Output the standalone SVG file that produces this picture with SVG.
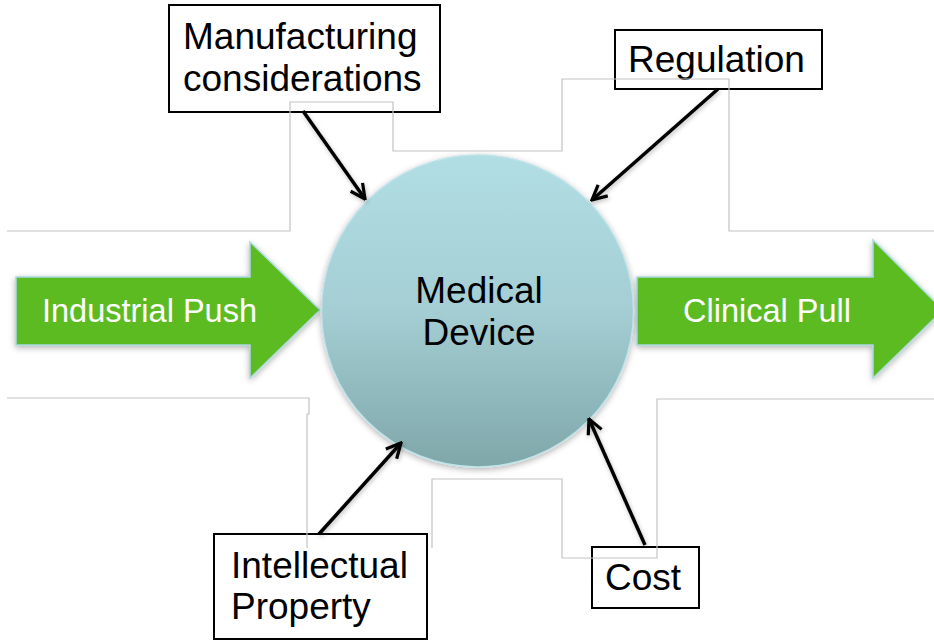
<svg xmlns="http://www.w3.org/2000/svg" width="934" height="641" viewBox="0 0 934 641">
<defs>
<style>
.lbl{font-family:"Liberation Sans",Arial,sans-serif;font-size:37px;fill:#000}
.wlbl{font-family:"Liberation Sans",Arial,sans-serif;font-size:32.5px;fill:#fff}
.box{fill:#fff;stroke:#000;stroke-width:2}
.grey{fill:none;stroke:#c4c4c4;stroke-width:1.2}
.conn{fill:none;stroke:#000;stroke-width:3.5;marker-end:url(#ah)}
.garrow{fill:#5dbb22;stroke:#a9d9de;stroke-width:1.5}
</style>
<linearGradient id="cg" x1="0" y1="0" x2="0" y2="1">
<stop offset="0" stop-color="#b1dee4"/>
<stop offset="0.5" stop-color="#a4ced3"/>
<stop offset="1" stop-color="#7fa7aa"/>
</linearGradient>
<filter id="sh" x="-20%" y="-20%" width="140%" height="140%">
<feDropShadow dx="0" dy="2" stdDeviation="3" flood-color="#000" flood-opacity="0.3"/>
</filter>
<filter id="lsh" x="-20%" y="-20%" width="140%" height="140%">
<feDropShadow dx="1" dy="2" stdDeviation="2" flood-color="#000" flood-opacity="0.25"/>
</filter>
<marker id="ah" viewBox="0 0 12 12" refX="11" refY="6" markerWidth="5" markerHeight="5" orient="auto" markerUnits="strokeWidth">
<path d="M1,1 L11,6 L1,11" fill="none" stroke="#000" stroke-width="2.2" stroke-linejoin="miter"/>
</marker>
</defs>
<rect width="934" height="641" fill="#fff"/>

<g id="industrial-push">
<path class="garrow" filter="url(#sh)" d="M16,277 L250,277 L250,242 L320,310 L250,378 L250,345 L16,345 Z"/>
<text class="wlbl" x="42" y="322">Industrial Push</text>
</g>
<g id="clinical-pull">
<path class="garrow" filter="url(#sh)" d="M637,277 L873,277 L873,240 L943,310 L873,378 L873,345 L637,345 Z"/>
<text class="wlbl" x="683" y="322">Clinical Pull</text>
</g>

<g id="medical-device">
<circle cx="477.5" cy="311" r="156" fill="url(#cg)" stroke="#bfe3e8" stroke-width="1.5" filter="url(#sh)"/>
<text class="lbl" x="479" y="303" text-anchor="middle">Medical</text>
<text class="lbl" x="479" y="345" text-anchor="middle">Device</text>
</g>

<g id="manufacturing">
<rect class="box" x="169" y="5" width="271" height="107"/>
<text class="lbl" x="183" y="49" font-size="38">Manufacturing</text>
<text class="lbl" x="183" y="91" font-size="38">considerations</text>
</g>
<g id="regulation">
<rect class="box" x="615" y="30" width="207" height="59"/>
<text class="lbl" x="628" y="72">Regulation</text>
</g>
<g id="intellectual-property">
<rect class="box" x="214" y="534" width="213" height="105"/>
<text class="lbl" x="231" y="578">Intellectual</text>
<text class="lbl" x="231" y="619">Property</text>
</g>
<g id="cost">
<rect class="box" x="592" y="547" width="107" height="61"/>
<text class="lbl" x="605" y="590">Cost</text>
</g>

<g id="outline">
<path class="grey" d="M7,231 L290,231 L290,102 L393,102 L393,151 L562,151 L562,79 L729,79 L729,231 L934,231"/>
<path class="grey" d="M7,398 L309,398 L309,414 L307,414 L307,548"/>
<path class="grey" d="M432,548 L432,479 L562,479 L562,558 L657,558 L657,399 L934,399"/>
</g>

<g id="connectors" filter="url(#lsh)">
<line class="conn" x1="303" y1="111" x2="365" y2="199"/>
<line class="conn" x1="718" y1="89" x2="592" y2="200"/>
<line class="conn" x1="319" y1="534" x2="401" y2="443"/>
<line class="conn" x1="645" y1="545" x2="589" y2="419"/>
</g>
</svg>
